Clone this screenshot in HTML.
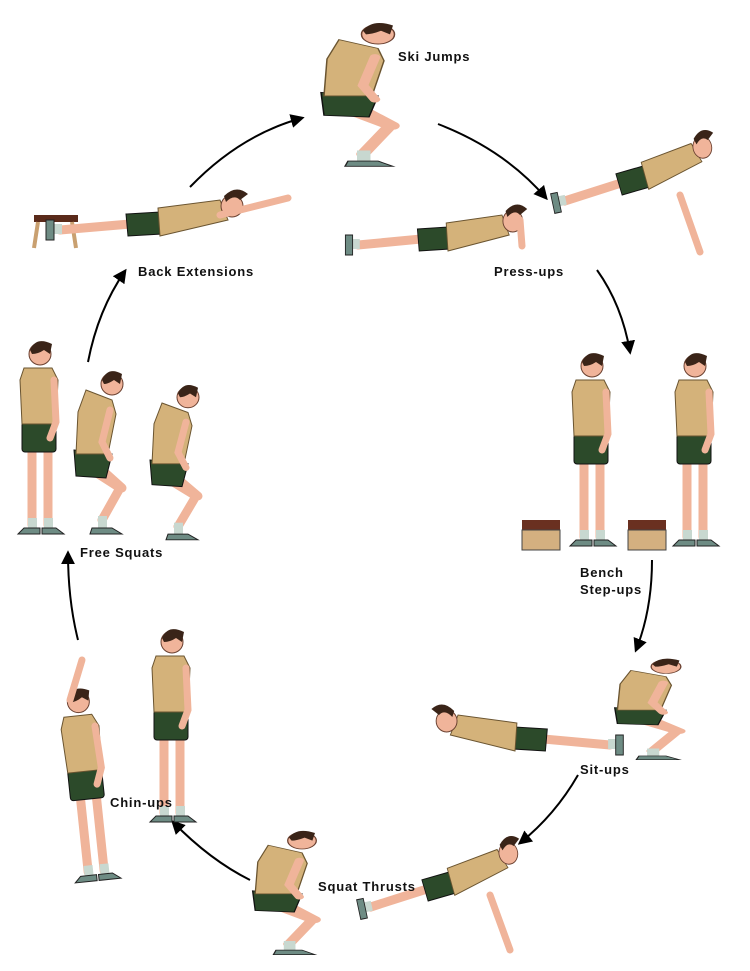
<!DOCTYPE html>
<html><head><meta charset="utf-8"><style>
html,body{margin:0;padding:0;background:#fff;}
svg{display:block}
text{font-family:"Liberation Sans",Arial,sans-serif;font-size:13px;font-weight:bold;letter-spacing:0.8px;fill:#111}
.sk{stroke:#f0b49a;stroke-linecap:round;fill:none}
.sh{fill:#d4b27a;stroke:#6a5430;stroke-width:1}
.st{fill:#2c4a2a;stroke:#111;stroke-width:1}
.hd{fill:#f0b49a;stroke:#6a4030;stroke-width:1}
.hr{fill:#3a2418}
.so{fill:#6e8c84;stroke:#222;stroke-width:1}
.ar{fill:none;stroke:#000;stroke-width:2}
</style></head><body>
<svg width="750" height="971" viewBox="0 0 750 971" xmlns="http://www.w3.org/2000/svg">
<defs>
<marker id="m" viewBox="0 0 10 10" refX="8" refY="5" markerWidth="7" markerHeight="7" orient="auto"><path d="M0,0 L10,5 L0,10 z" fill="#000"/></marker>
<g id="stand">
 <path class="sk" stroke-width="9" d="M14,110 L14,185 M30,110 L30,185"/>
 <rect x="10" y="178" width="9" height="10" fill="#c8d8d0"/><rect x="26" y="178" width="9" height="10" fill="#c8d8d0"/>
 <path class="so" d="M6,188 h16 v6 h-22z M24,188 h14 l8,6 h-22z"/>
 <rect class="st" x="4" y="82" width="34" height="30" rx="3"/>
 <path class="sh" d="M6,28 L34,28 L40,40 L38,84 L4,84 L2,40z"/>
 <path class="sk" stroke-width="7" d="M36,40 L38,82 L32,98"/>
 <circle class="hd" cx="22" cy="14" r="11"/>
 <path class="hr" d="M12,10 Q18,-4 34,4 L32,14 L26,10 Q20,14 14,14z"/>
</g>
<g id="squat">
 <path class="sk" stroke-width="9" d="M20,100 L48,118 L30,150 M30,100 L50,118"/>
 <rect x="26" y="146" width="9" height="12" fill="#c8d8d0"/>
 <path class="so" d="M20,158 h20 l10,6 h-32z"/>
 <path class="st" d="M2,80 L40,84 L34,108 L4,106z"/>
 <path class="sh" d="M14,20 L40,30 L44,44 L36,84 L4,84 L6,42z"/>
 <path class="sk" stroke-width="7" d="M38,40 L30,72 L38,88"/>
 <circle class="hd" cx="40" cy="14" r="11"/>
 <path class="hr" d="M30,10 Q36,-4 50,4 L48,14 L42,10 Q36,14 32,14z"/>
</g>
<g id="flat">
 <path class="sk" stroke-width="9" d="M0,40 L70,34"/>
 <rect x="-8" y="34" width="10" height="10" fill="#c8d8d0"/>
 <path class="so" d="M-14,30 h8 v20 h-8z"/>
 <path class="st" d="M66,24 L100,22 L102,44 L68,46z"/>
 <path class="sh" d="M98,18 L160,10 L168,30 L100,46z"/>
 <circle class="hd" cx="172" cy="16" r="11"/>
 <path class="hr" d="M164,6 Q176,-6 188,4 L180,10 Q174,4 166,12z"/>
</g>
</defs>

<path class="ar" marker-end="url(#m)" d="M190,187 Q240,135 302,118"/>
<path class="ar" marker-end="url(#m)" d="M438,124 Q505,150 546,198"/>
<path class="ar" marker-end="url(#m)" d="M597,270 Q622,305 630,352"/>
<path class="ar" marker-end="url(#m)" d="M652,560 Q652,610 636,650"/>
<path class="ar" marker-end="url(#m)" d="M578,775 Q555,815 520,843"/>
<path class="ar" marker-end="url(#m)" d="M250,880 Q210,860 173,822"/>
<path class="ar" marker-end="url(#m)" d="M78,640 Q68,600 68,553"/>
<path class="ar" marker-end="url(#m)" d="M88,362 Q98,310 125,271"/>

<use href="#squat" transform="translate(318,22) scale(1.5,0.88)"/>
<text x="398" y="61">Ski Jumps</text>

<rect x="34" y="215" width="44" height="7" fill="#5a2a1a"/>
<path d="M38,222 L34,248 M72,222 L76,248" stroke="#c9a070" stroke-width="4"/>
<use href="#flat" transform="translate(60,190)"/>
<path class="sk" stroke-width="7" d="M220,215 L288,198"/>
<text x="138" y="276">Back Extensions</text>

<use href="#flat" transform="translate(358,205) scale(0.9,1)"/>
<use href="#flat" transform="translate(556,162) rotate(-12) scale(0.85,1)"/>
<path class="sk" stroke-width="7" d="M680,195 L700,252 M520,220 L522,246"/>
<text x="494" y="276">Press-ups</text>

<use href="#stand" transform="translate(18,340)"/>
<use href="#squat" transform="translate(72,370)"/>
<use href="#squat" transform="translate(148,384) scale(1,0.95)"/>
<text x="80" y="557">Free Squats</text>

<use href="#stand" transform="translate(570,352)"/>
<use href="#stand" transform="translate(673,352)"/>
<rect x="522" y="520" width="38" height="10" fill="#6a3020"/><rect x="522" y="530" width="38" height="20" fill="#d4b080" stroke="#444"/>
<rect x="628" y="520" width="38" height="10" fill="#6a3020"/><rect x="628" y="530" width="38" height="20" fill="#d4b080" stroke="#444"/>
<text x="580" y="577">Bench</text>
<text x="580" y="594">Step-ups</text>

<use href="#flat" transform="translate(610,705) scale(-0.95,1)"/>
<use href="#squat" transform="translate(612,658) scale(1.35,0.62)"/>
<text x="580" y="774">Sit-ups</text>

<use href="#squat" transform="translate(250,830) scale(1.3,0.76)"/>
<use href="#flat" transform="translate(362,868) rotate(-12) scale(0.85,1)"/>
<path class="sk" stroke-width="7" d="M490,895 L510,950"/>
<text x="318" y="891">Squat Thrusts</text>

<use href="#stand" transform="translate(55,690) rotate(-6)"/>
<path class="sk" stroke-width="7" d="M70,700 L82,660"/>
<use href="#stand" transform="translate(150,628)"/>
<text x="110" y="807">Chin-ups</text>
</svg>
</body></html>
